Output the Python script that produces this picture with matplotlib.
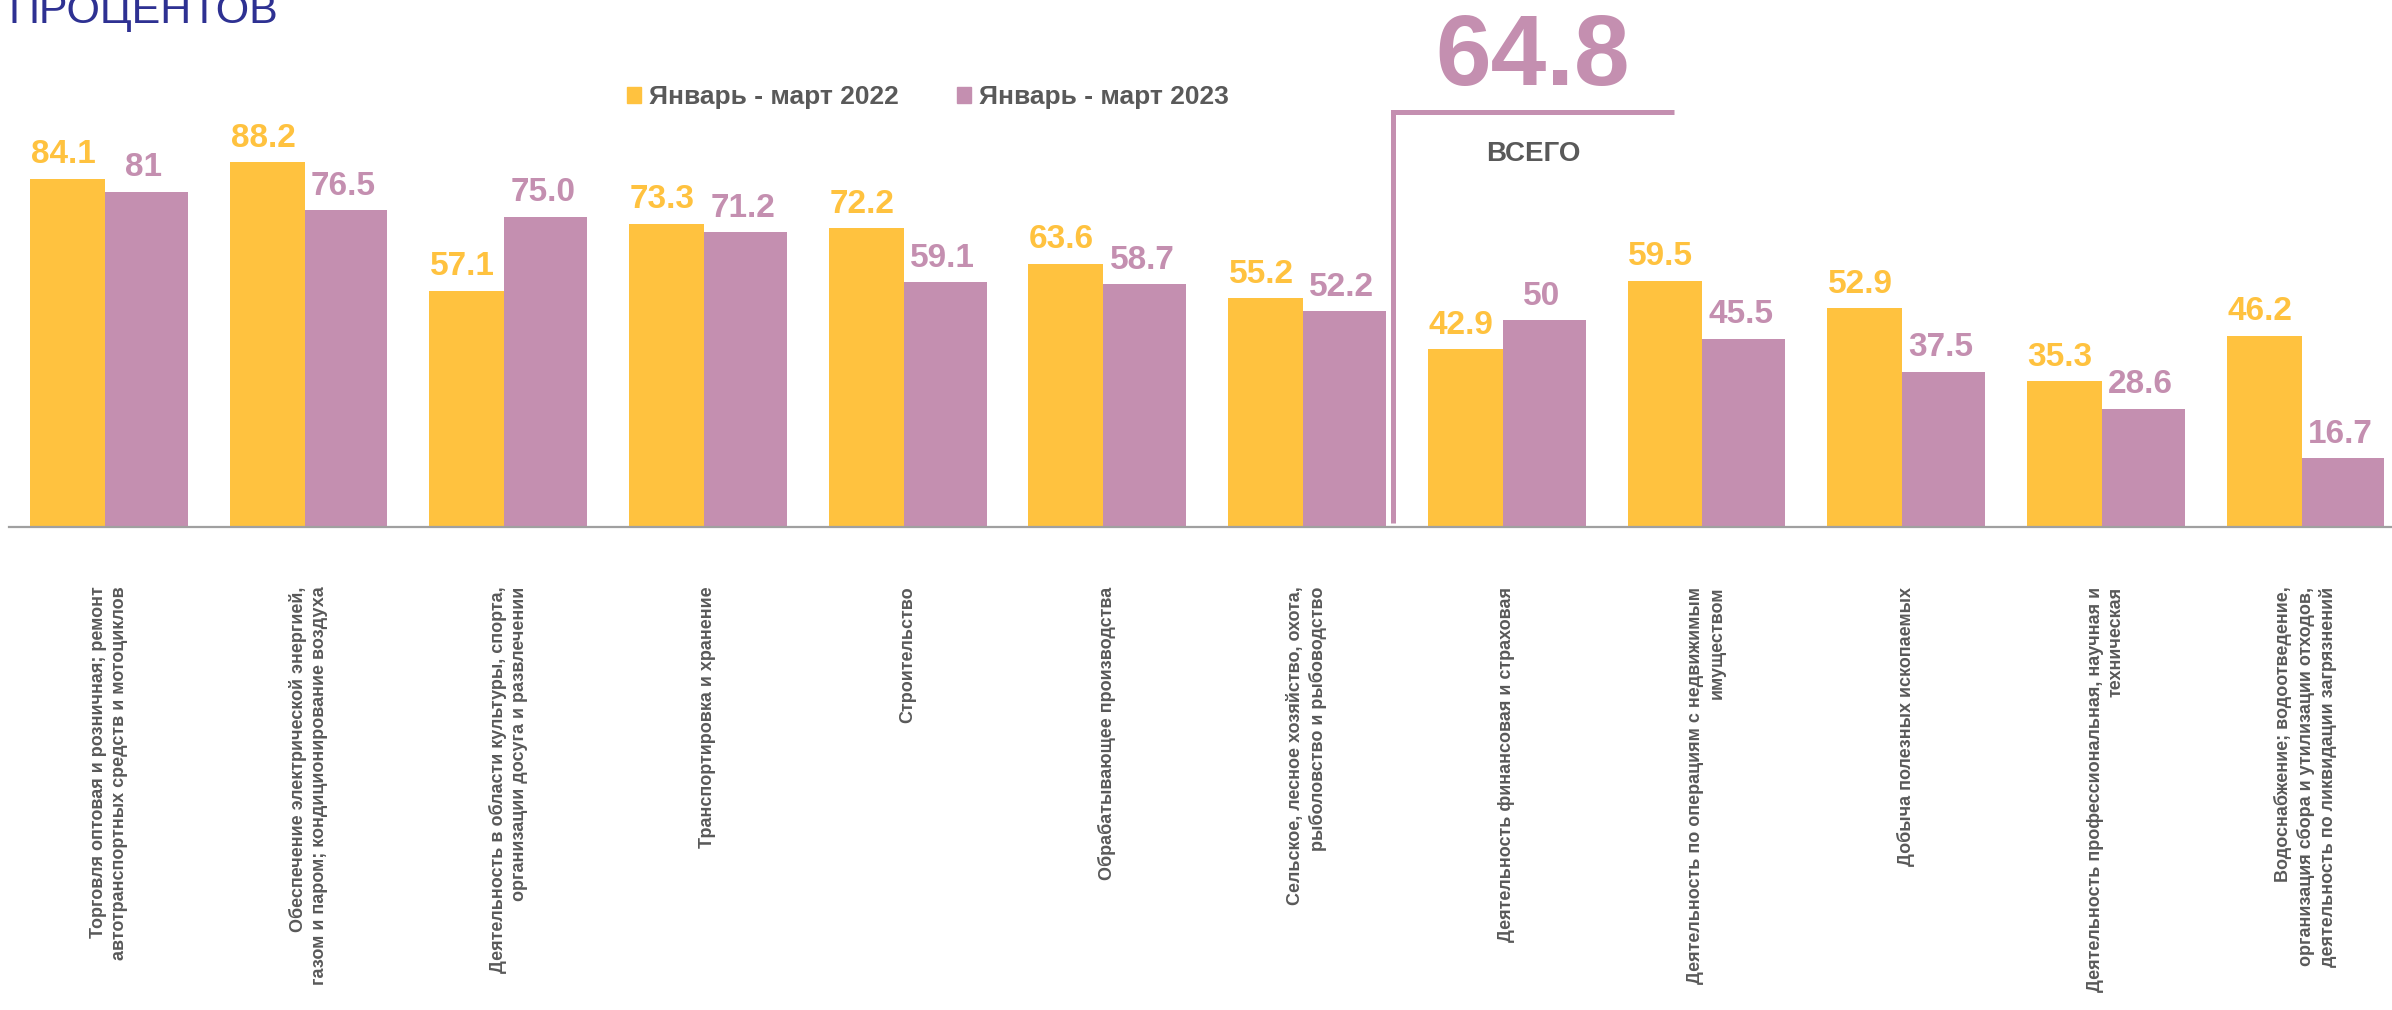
import matplotlib.pyplot as plt
from matplotlib.patches import Patch
import numpy as np

plt.rcParams['font.family'] = ['Liberation Sans', 'DejaVu Sans']

# данные
categories = [
    'Торговля оптовая и розничная; ремонт\nавтотранспортных средств и мотоциклов',
    'Обеспечение электрической энергией,\nгазом и паром; кондиционирование воздуха',
    'Деятельность в области культуры, спорта,\nорганизации досуга и развлечении',
    'Транспортировка и хранение',
    'Строительство',
    'Обрабатывающее производства',
    'Сельское, лесное хозяйство, охота,\nрыболовство и рыбоводство',
    'Деятельность финансовая и страховая',
    'Деятельность по операциям с недвижимым\nимуществом',
    'Добыча полезных ископаемых',
    'Деятельность профессиональная, научная и\nтехническая',
    'Водоснабжение; водоотведение,\nорганизация сбора и утилизации отходов,\nдеятельность по ликвидации загрязнений',
]
values_2022 = [84.1, 88.2, 57.1, 73.3, 72.2, 63.6, 55.2, 42.9, 59.5, 52.9, 35.3, 46.2]
values_2023 = [81, 76.5, 75.0, 71.2, 59.1, 58.7, 52.2, 50, 45.5, 37.5, 28.6, 16.7]
labels_2022 = ['84.1', '88.2', '57.1', '73.3', '72.2', '63.6', '55.2', '42.9', '59.5', '52.9', '35.3', '46.2']
labels_2023 = ['81', '76.5', '75.0', '71.2', '59.1', '58.7', '52.2', '50', '45.5', '37.5', '28.6', '16.7']
series_names = ['Январь - март 2022', 'Январь - март 2023']
total_value = '64.8'
total_label = 'ВСЕГО'
title_text = 'ПРОЦЕНТОВ'

yellow = '#FFC23F'
purple = '#C48FB0'
gray_text = '#595959'

W, H = 2392, 1010
fig = plt.figure(figsize=(W / 100, H / 100), dpi=100)
ax = fig.add_axes([9 / W, 483 / H, 1 - 9 / W, 527 / H])

x = np.arange(len(categories))
b1 = ax.bar(x - 0.395, values_2022, width=0.375, align='edge', color=yellow)
b2 = ax.bar(x - 0.02, values_2023, width=0.415, align='edge', color=purple)

# подписи значений над столбцами
for rect, lab in zip(b1, labels_2022):
    ax.annotate(lab, (rect.get_x() + rect.get_width() / 2, rect.get_height()),
                xytext=(-3, 6), textcoords='offset points', ha='center', va='bottom',
                fontsize=24, fontweight='bold', color=yellow)
for rect, lab in zip(b2, labels_2023):
    ax.annotate(lab, (rect.get_x() + rect.get_width() / 2, rect.get_height()),
                xytext=(-2, 6), textcoords='offset points', ha='center', va='bottom',
                fontsize=24, fontweight='bold', color=purple)

ax.set_xlim(-0.5, -0.5 + 2383 / 199.7)
ax.set_ylim(0, 527 / 4.14)
ax.set_yticks([])
ax.set_xticks(x)
ax.set_xticklabels(categories, rotation=90, ha='center', va='top', multialignment='right',
                   fontsize=13, fontweight='bold', color=gray_text, linespacing=1.3)
ax.tick_params(axis='x', length=0, pad=43)
for s in ['top', 'right', 'left']:
    ax.spines[s].set_visible(False)
ax.spines['bottom'].set_color('#A0A0A0')
ax.spines['bottom'].set_linewidth(1.6)

# рамка "всего"
ax.plot([6.43, 6.43, 7.84], [1.0, 100.2, 100.2], color=purple, lw=3.6,
        solid_capstyle='butt', solid_joinstyle='miter', clip_on=False)
fig.text(1533 / W, 1 - 85 / H, total_value, ha='center', va='baseline',
         fontsize=72, fontweight='bold', color=purple)
fig.text(1533 / W, 1 - 161 / H, total_label, ha='center', va='baseline',
         fontsize=20, fontweight='bold', color=gray_text)

# легенда
handles = [Patch(color=yellow), Patch(color=purple)]
fig.legend(handles, series_names, loc='center', bbox_to_anchor=(928 / W, 1 - 97 / H),
           ncol=2, frameon=False, handlelength=0.55, handleheight=0.55,
           handletextpad=0.3, columnspacing=2.2,
           prop={'size': 19, 'weight': 'bold'}, labelcolor=gray_text)

fig.text(8 / W, 1 - 23 / H, title_text, ha='left', va='baseline',
         fontsize=31, color='#2E3192')

fig.savefig('out.png', dpi=100)
